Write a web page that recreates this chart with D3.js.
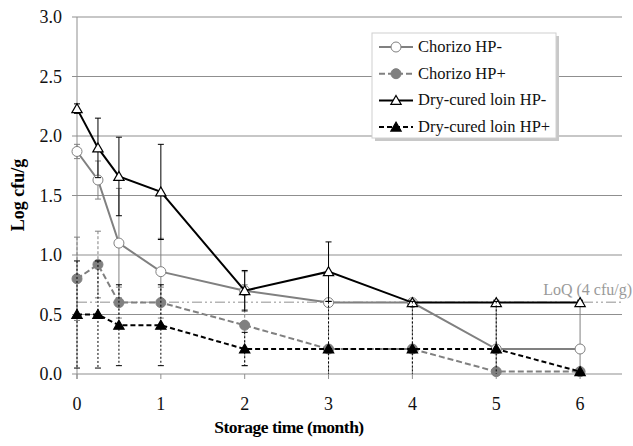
<!DOCTYPE html>
<html>
<head>
<meta charset="utf-8">
<script src="https://cdn.jsdelivr.net/npm/d3@7"></script>
<style>
  body { margin: 0; background: #fff; }
  svg { font-family: "Liberation Serif", "Times New Roman", serif; }
</style>
</head>
<body>
<main></main>
<script>
// data
let months = [0, 0.25, 0.5, 1, 2, 3, 4, 5, 6]
let chorizoMinus = [1.87, 1.63, 1.10, 0.86, 0.70, 0.60, 0.60, 0.21, 0.21]
let chorizoMinusErr = [0.06, 0.16, 0.46, 0.28, 0.16, 0, 0, 0.40, 0.40]
let chorizoPlus = [0.80, 0.92, 0.60, 0.60, 0.41, 0.21, 0.21, 0.02, 0.02]
let chorizoPlusErr = [0.35, 0.28, 0.13, 0.13, 0.34, 0.40, 0.40, 0, 0]
let loinMinus = [2.23, 1.90, 1.66, 1.53, 0.70, 0.86, 0.60, 0.60, 0.60]
let loinMinusErr = [0.04, 0.25, 0.33, 0.40, 0.17, 0.25, 0.02, 0.02, 0.02]
let loinPlus = [0.50, 0.50, 0.41, 0.41, 0.21, 0.21, 0.21, 0.21, 0.02]
let loinPlusErr = [0.45, 0.45, 0.34, 0.34, 0.14, 0.40, 0.40, 0.40, 0]
let xTicks = [0, 1, 2, 3, 4, 5, 6]
let yTicks = [0, 0.5, 1, 1.5, 2, 2.5, 3]
let loq = Math.log10(4)

let series = [
  {name: 'Chorizo HP-', vals: chorizoMinus, err: chorizoMinusErr, color: '#808080', dash: null, errDash: null, marker: 'circle', fill: '#fff'},
  {name: 'Chorizo HP+', vals: chorizoPlus, err: chorizoPlusErr, color: '#808080', dash: '6,3', errDash: '3,2', marker: 'circle', fill: '#808080'},
  {name: 'Dry-cured loin HP-', vals: loinMinus, err: loinMinusErr, color: '#000', dash: null, errDash: null, marker: 'triangle', fill: '#fff'},
  {name: 'Dry-cured loin HP+', vals: loinPlus, err: loinPlusErr, color: '#000', dash: '5,3', errDash: '2,2', marker: 'triangle', fill: '#000'}
]

let svg = d3.select('main').append('svg')
    .attr('width', 633)
    .attr('height', 446)

let x = d3.scaleLinear().domain([0, 6.5]).range([77, 622])
let y = d3.scaleLinear().domain([0, 3]).range([374, 17])

// gridlines (extend a little left of the axis like tick marks)
svg.append('g').selectAll('line')
    .data(yTicks)
    .join('line')
    .attr('x1', 72)
    .attr('x2', x(6.5))
    .attr('y1', d => y(d))
    .attr('y2', d => y(d))
    .attr('stroke', '#8f8f8f')
    .attr('stroke-width', 1)

// vertical axis line
svg.append('line')
    .attr('x1', x(0)).attr('x2', x(0))
    .attr('y1', y(3)).attr('y2', y(0) + 5)
    .attr('stroke', '#8f8f8f')

// x ticks
svg.append('g').selectAll('line')
    .data(xTicks)
    .join('line')
    .attr('x1', d => x(d)).attr('x2', d => x(d))
    .attr('y1', y(0)).attr('y2', y(0) + 5)
    .attr('stroke', '#8f8f8f')

svg.append('g').selectAll('text')
    .data(yTicks)
    .join('text')
    .attr('x', 62)
    .attr('y', d => y(d) + 6)
    .attr('text-anchor', 'end')
    .attr('font-size', 18)
    .attr('fill', '#111')
    .text(d => d3.format('.1f')(d))

svg.append('g').selectAll('text')
    .data(xTicks)
    .join('text')
    .attr('x', d => x(d))
    .attr('y', 410)
    .attr('text-anchor', 'middle')
    .attr('font-size', 18)
    .attr('fill', '#111')
    .text(d => d)

svg.append('text')
    .attr('x', 289)
    .attr('y', 433)
    .attr('text-anchor', 'middle')
    .attr('font-size', 17.5)
    .attr('font-weight', 'bold')
    .attr('letter-spacing', -0.5)
    .text('Storage time (month)')

svg.append('text')
    .attr('transform', 'translate(24,195) rotate(-90)')
    .attr('text-anchor', 'middle')
    .attr('font-size', 18)
    .attr('font-weight', 'bold')
    .text('Log cfu/g')

// LoQ line
svg.append('line')
    .attr('x1', x(0)).attr('x2', x(6.5))
    .attr('y1', y(loq)).attr('y2', y(loq))
    .attr('stroke', '#b5b5b5')
    .attr('stroke-width', 1.5)
    .attr('stroke-dasharray', '10,3,2,3,2,3')

svg.append('text')
    .attr('x', 632)
    .attr('y', y(loq) - 7)
    .attr('text-anchor', 'end')
    .attr('font-size', 16)
    .attr('fill', '#9a9a9a')
    .text('LoQ (4 cfu/g)')

let line = d3.line().x(d => x(d[0])).y(d => y(d[1]))
let tri = d3.symbol().type(d3.symbolTriangle).size(46)

function drawMarker(g, s, cx, cy) {
  if (s.marker == 'circle') {
    g.append('circle')
        .attr('cx', cx).attr('cy', cy).attr('r', 5)
        .attr('fill', s.fill)
        .attr('stroke', s.color)
        .attr('stroke-width', 1)
  } else {
    g.append('path')
        .attr('d', tri())
        .attr('transform', `translate(${cx},${cy + 1})`)
        .attr('fill', s.fill)
        .attr('stroke', s.color)
        .attr('stroke-width', 1.2)
  }
}

series.forEach(s => {
  let g = svg.append('g')
  let pts = months.map((m, i) => [m, s.vals[i]])

  // error bars
  pts.forEach((p, i) => {
    let e = s.err[i]
    if (!e) return
    let hi = Math.min(3, p[1] + e)
    let lo = Math.max(0, p[1] - e)
    g.append('line')
        .attr('x1', x(p[0])).attr('x2', x(p[0]))
        .attr('y1', y(hi)).attr('y2', y(lo))
        .attr('stroke', s.color)
        .attr('stroke-width', 1)
        .attr('stroke-dasharray', s.errDash)
    let caps = [hi]
    if (p[1] - e > 0) caps.push(lo)
    caps.forEach(c => {
      g.append('line')
          .attr('x1', x(p[0]) - 3).attr('x2', x(p[0]) + 3)
          .attr('y1', y(c)).attr('y2', y(c))
          .attr('stroke', s.color)
          .attr('stroke-width', 1)
    })
  })

  g.append('path')
      .attr('d', line(pts))
      .attr('fill', 'none')
      .attr('stroke', s.color)
      .attr('stroke-width', 2)
      .attr('stroke-dasharray', s.dash)

  pts.forEach(p => drawMarker(g, s, x(p[0]), y(p[1])))
})

// legend
let lg = svg.append('g')
lg.append('rect')
    .attr('x', 375).attr('y', 36)
    .attr('width', 184).attr('height', 105)
    .attr('fill', '#c8c8c8')
lg.append('rect')
    .attr('x', 372).attr('y', 33)
    .attr('width', 184).attr('height', 105)
    .attr('fill', '#fff')
    .attr('stroke', '#d0d0d0')

series.forEach((s, i) => {
  let ly = 47 + i * 26.7
  lg.append('line')
      .attr('x1', 379).attr('x2', 413)
      .attr('y1', ly).attr('y2', ly)
      .attr('stroke', s.color)
      .attr('stroke-width', 2)
      .attr('stroke-dasharray', s.dash)
  drawMarker(lg, s, 396, ly)
  lg.append('text')
      .attr('x', 418)
      .attr('y', ly + 5)
      .attr('font-size', 16.5)
      .attr('fill', '#111')
      .text(s.name)
})
</script>
</body>
</html>
